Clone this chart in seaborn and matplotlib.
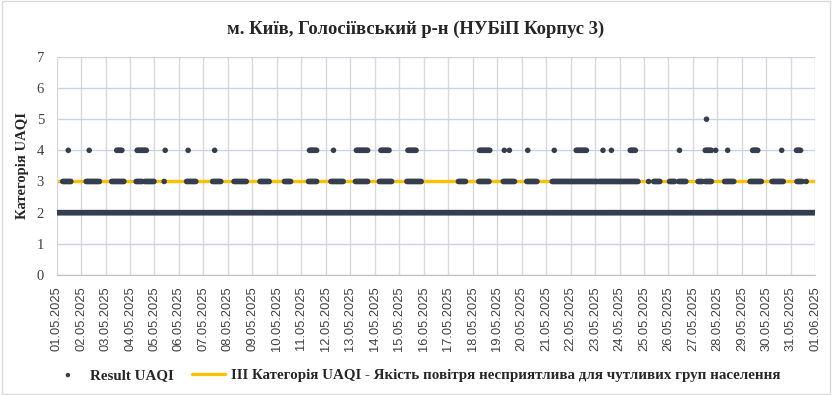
import pandas as pd
import matplotlib
matplotlib.use("Agg")
import matplotlib.pyplot as plt
import matplotlib.dates as mdates
from matplotlib.patches import Rectangle
import seaborn as sns

# period of measurements
start_date = "2025-05-01 00:00"
end_date = "2025-06-01 00:00"

# category 2 is reported through the whole month
base_category = 2

# episodes (start, end), category 3
cat3_episodes = [
    ("05-01 06:00", "05-01 14:30"), ("05-02 05:00", "05-02 18:00"),
    ("05-03 06:00", "05-03 18:00"), ("05-04 06:00", "05-04 12:30"),
    ("05-04 14:30", "05-04 23:30"), ("05-05 09:30", "05-05 09:30"),
    ("05-06 07:30", "05-06 16:30"), ("05-07 09:00", "05-07 17:00"),
    ("05-08 06:00", "05-08 18:30"), ("05-09 07:30", "05-09 16:30"),
    ("05-10 07:30", "05-10 14:00"), ("05-11 07:00", "05-11 15:00"),
    ("05-12 05:00", "05-12 17:30"), ("05-13 05:00", "05-13 17:00"),
    ("05-14 04:30", "05-14 17:00"), ("05-15 07:30", "05-15 21:30"),
    ("05-17 10:00", "05-17 17:30"), ("05-18 06:00", "05-18 16:30"),
    ("05-19 06:00", "05-19 17:00"), ("05-20 05:00", "05-20 15:00"),
    ("05-21 06:00", "05-23 02:00"), ("05-23 04:00", "05-24 18:45"),
    ("05-25 04:30", "05-25 04:30"), ("05-25 09:30", "05-25 16:00"),
    ("05-26 01:00", "05-26 06:00"), ("05-26 10:00", "05-26 17:15"),
    ("05-27 05:00", "05-27 09:00"), ("05-27 12:00", "05-27 18:45"),
    ("05-28 07:00", "05-28 16:30"), ("05-29 08:00", "05-29 19:00"),
    ("05-30 05:30", "05-30 17:00"), ("05-31 06:00", "05-31 11:00"),
    ("05-31 15:00", "05-31 15:00"),
]

# category 4
cat4_episodes = [
    ("05-01 11:30", "05-01 11:30"), ("05-02 08:00", "05-02 08:00"),
    ("05-03 11:00", "05-03 16:00"), ("05-04 07:00", "05-04 16:30"),
    ("05-05 10:30", "05-05 10:30"), ("05-06 09:00", "05-06 09:00"),
    ("05-07 11:00", "05-07 11:00"), ("05-11 08:00", "05-11 15:00"),
    ("05-12 07:30", "05-12 07:30"), ("05-13 06:00", "05-13 17:00"),
    ("05-14 06:00", "05-14 14:30"), ("05-15 08:30", "05-15 16:30"),
    ("05-18 06:45", "05-18 17:00"), ("05-19 07:00", "05-19 07:00"),
    ("05-19 12:00", "05-19 12:00"), ("05-20 06:00", "05-20 06:00"),
    ("05-21 08:00", "05-21 08:00"), ("05-22 05:30", "05-22 16:00"),
    ("05-23 07:45", "05-23 07:45"), ("05-23 16:00", "05-23 16:00"),
    ("05-24 10:30", "05-24 16:15"), ("05-26 10:45", "05-26 10:45"),
    ("05-27 12:00", "05-27 18:00"), ("05-27 22:15", "05-27 22:15"),
    ("05-28 10:00", "05-28 10:00"), ("05-29 10:30", "05-29 16:15"),
    ("05-30 15:00", "05-30 15:00"), ("05-31 05:30", "05-31 10:00"),
]

# category 5
cat5_episodes = [("05-27 13:15", "05-27 13:15")]

threshold = 3

title = "м. Київ, Голосіївський р-н (НУБіП Корпус 3)"
ylabel = "Категорія UAQI"
label_points = "Result UAQI"
label_line = "ІІІ Категорія UAQI - Якість повітря несприятлива для чутливих груп населення"


def episodes_to_frame(episodes, cat):
    parts = []
    for a, b in episodes:
        t = pd.date_range("2025-" + a, "2025-" + b, freq="1h")
        if len(t) == 0:
            t = pd.DatetimeIndex([pd.Timestamp("2025-" + a)])
        parts.append(pd.DataFrame({"time": t, "uaqi": cat}))
    return pd.concat(parts)


def main():
    base = pd.DataFrame({"time": pd.date_range(start_date, end_date, freq="1h"),
                         "uaqi": base_category})
    df = pd.concat([base,
                    episodes_to_frame(cat3_episodes, 3),
                    episodes_to_frame(cat4_episodes, 4),
                    episodes_to_frame(cat5_episodes, 5)], ignore_index=True)
    line_df = pd.DataFrame({"time": pd.to_datetime([start_date, end_date]),
                            "uaqi": [threshold, threshold]})

    sns.set_style("white")
    plt.rcParams["font.family"] = ["Liberation Serif", "DejaVu Serif"]

    fig = plt.figure(figsize=(8.32, 3.95), dpi=100)
    ax = fig.add_axes([0.068, 0.304, 0.912, 0.552])

    sns.lineplot(data=line_df, x="time", y="uaqi", color="#FFC000", lw=2.4,
                 ax=ax, label=label_line, zorder=2)
    sns.scatterplot(data=df, x="time", y="uaqi", color="#343E4F", s=16,
                    edgecolor="none", linewidth=0, ax=ax, label=label_points,
                    zorder=3)

    ax.set_xlim(pd.Timestamp(start_date), pd.Timestamp(end_date))
    ax.set_ylim(0, 7)
    ax.set_yticks(range(0, 8))
    ax.xaxis.set_major_locator(mdates.DayLocator())
    ax.xaxis.set_major_formatter(mdates.DateFormatter("%d.%m.%Y"))

    ax.grid(axis="y", color="#C9D3E8", lw=1.0, zorder=0)
    ax.grid(axis="x", color="#D9D9D9", lw=1.0, zorder=0)
    ax.set_axisbelow(True)
    for s in ["top", "right"]:
        ax.spines[s].set_visible(False)
    ax.spines["left"].set_color("#D9D9D9")
    ax.spines["bottom"].set_color("#BFBFBF")

    ax.tick_params(axis="x", direction="out", length=5, color="#BFBFBF",
                   labelsize=9.3, labelcolor="#404040", rotation=90, pad=3)
    ax.tick_params(axis="y", length=0, labelsize=10.5, labelcolor="#404040", pad=9)
    for lab in ax.get_xticklabels():
        lab.set_family("Liberation Sans")

    ax.set_xlabel("")
    ax.set_ylabel(ylabel, fontsize=10.5, fontweight="bold", labelpad=6)
    ax.yaxis.set_label_coords(-0.036, 0.5)
    fig.text(0.5, 0.925, title, ha="center", va="center", fontsize=13.4,
             fontweight="bold")

    h, l = ax.get_legend_handles_labels()
    order = [l.index(label_points), l.index(label_line)]
    ax.legend([h[i] for i in order], [l[i] for i in order], ncol=2,
              loc="center", bbox_to_anchor=(0.5, 0.05),
              bbox_transform=fig.transFigure, frameon=False,
              prop={"weight": "bold", "size": 10.8}, handlelength=2.2,
              columnspacing=1.2, handletextpad=0.4, markerscale=0.8)

    fig.patches.append(Rectangle((0.002, 0.003), 0.996, 0.994, transform=fig.transFigure,
                                 fill=False, edgecolor="#D9D9D9", lw=1))
    fig.savefig("out.png", dpi=100, facecolor="white")


if __name__ == "__main__":
    main()
